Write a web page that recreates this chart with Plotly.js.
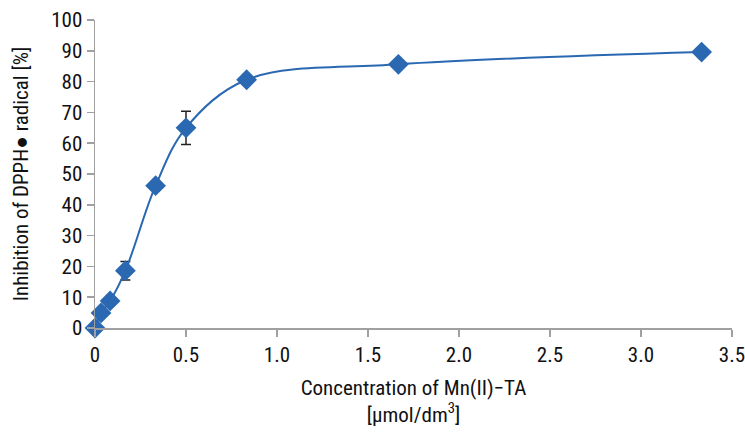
<!DOCTYPE html>
<html>
<head>
<meta charset="utf-8">
<script src="https://cdn.plot.ly/plotly-3.0.1.min.js"></script>
<style>html,body{margin:0;padding:0;background:#fff;}#chart{width:745px;height:432px;}</style>
</head>
<body>
<div id="chart"></div>
<script>
const concentration = [0, 0.033, 0.083, 0.167, 0.333, 0.5, 0.833, 1.667, 3.333];
const inhibition = [0, 4.9, 8.8, 18.6, 46.2, 65, 80.6, 85.6, 89.6];
const errorValues = [0, 0, 0, 3, 0, 5.4, 0, 0, 0];
const xTicks = [0, 0.5, 1.0, 1.5, 2.0, 2.5, 3.0, 3.5];
const xTickLabels = ['0', '0.5', '1.0', '1.5', '2.0', '2.5', '3.0', '3.5'];
const yTicks = [0, 10, 20, 30, 40, 50, 60, 70, 80, 90, 100];

const fontFam = '"Roboto Condensed", "Liberation Sans Narrow", Roboto, sans-serif';
const blue = '#2a68b2';

const trace = {
  x: concentration,
  y: inhibition,
  type: 'scatter',
  mode: 'lines+markers',
  line: {color: blue, width: 2, shape: 'spline', smoothing: 1},
  marker: {symbol: 'diamond', size: 16, color: blue},
  error_y: {type: 'data', array: errorValues, visible: true, color: '#222', thickness: 1.5, width: 5},
  cliponaxis: false
};

const layout = {
  width: 745, height: 432,
  margin: {l: 95, r: 13, t: 20, b: 104},
  paper_bgcolor: '#fff', plot_bgcolor: '#fff',
  showlegend: false,
  font: {family: fontFam, size: 21, color: '#111'},
  xaxis: {
    range: [0, 3.5], tickvals: xTicks, ticktext: xTickLabels,
    ticklabeloverflow: 'allow',
    showgrid: false, zeroline: false, showline: true, linecolor: '#a0a0a0', linewidth: 1.5,
    ticks: 'outside', ticklen: 7, tickcolor: '#a0a0a0', tickwidth: 1.5,
    tickfont: {family: fontFam, size: 21, color: '#111'},
    title: {text: 'Concentration of Mn(II)−TA<br>[μmol/dm<sup>3</sup>]', font: {family: fontFam, size: 21, color: '#111'}, standoff: 14}
  },
  yaxis: {
    range: [0, 100], tickvals: yTicks,
    ticklabeloverflow: 'allow',
    showgrid: false, zeroline: false, showline: true, linecolor: '#a0a0a0', linewidth: 1.5,
    ticks: 'outside', ticklen: 7, tickcolor: '#a0a0a0', tickwidth: 1.5,
    tickfont: {family: fontFam, size: 21, color: '#111'},
    title: {text: 'Inhibition of DPPH● radical [%]', font: {family: fontFam, size: 21, color: '#111'}, standoff: 17}
  }
};

Plotly.newPlot('chart', [trace], layout, {displayModeBar: false, staticPlot: true});
</script>
</body>
</html>
